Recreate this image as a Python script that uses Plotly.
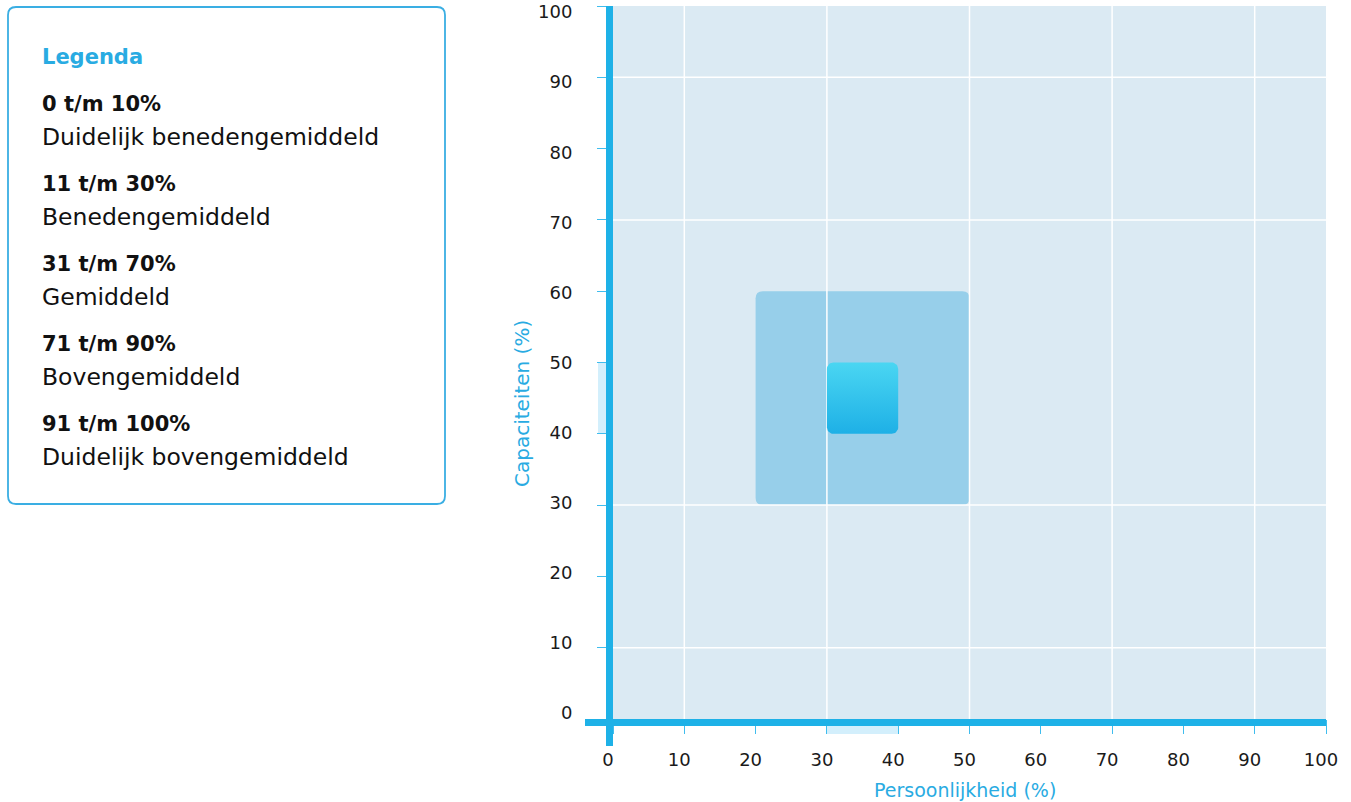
import numpy as np
import plotly.graph_objects as go

# ---------------- data ----------------
AXIS_TICKS = [0, 10, 20, 30, 40, 50, 60, 70, 80, 90, 100]
TICK_LABELS = [str(v) for v in AXIS_TICKS]
GRID_X = [10, 30, 50, 70, 90]
GRID_Y = [10, 30, 70, 90]
RANGE_PERSOONLIJKHEID = [20, 50]      # x extent of the wide band
RANGE_CAPACITEITEN = [30, 60]         # y extent of the wide band
SCORE_PERSOONLIJKHEID = [30, 40]      # x extent of the score
SCORE_CAPACITEITEN = [40, 50]         # y extent of the score
LEGEND_TITLE = "Legenda"
LEGEND_RANGES = ["0 t/m 10%", "11 t/m 30%", "31 t/m 70%", "71 t/m 90%", "91 t/m 100%"]
LEGEND_LABELS = ["Duidelijk benedengemiddeld", "Benedengemiddeld", "Gemiddeld",
                 "Bovengemiddeld", "Duidelijk bovengemiddeld"]
X_TITLE = "Persoonlijkheid (%)"
Y_TITLE = "Capaciteiten (%)"

# ---------------- layout constants ----------------
W, H = 1351, 802
ML, MR, MT, MB = 613, 25, 6, 83
PW, PH = W - ML - MR, H - MT - MB
FONT = "DejaVu Sans"
BLUE = "#1eb1e7"
TITLE_BLUE = "#29abe2"
TICK_BLUE = "#40bdee"
PLOT_BG = "#dbeaf3"
BAND = "#97cfea"
HILITE = "#d3effc"
# y tick labels sit on a slightly tighter scale than the ticks (label of 0 at 713px, of 100 at 12px)
LBL_BOTTOM_PX, LBL_TOP_PX = 713, 12


def pxx(px):
    return (px - ML) / PW


def pxy(py):
    return (H - MB - py) / PH


def rounded_path(x0, x1, y0, y1, rx, ry):
    return (f"M{x0 + rx},{y0} L{x1 - rx},{y0} Q{x1},{y0} {x1},{y0 + ry} "
            f"L{x1},{y1 - ry} Q{x1},{y1} {x1 - rx},{y1} L{x0 + rx},{y1} "
            f"Q{x0},{y1} {x0},{y1 - ry} L{x0},{y0 + ry} Q{x0},{y0} {x0 + rx},{y0} Z")


def rounded_outline(x0, x1, y0, y1, r, n=10):
    xs, ys = [], []
    corners = [(x1 - r, y0 + r, -90, 0), (x1 - r, y1 - r, 0, 90),
               (x0 + r, y1 - r, 90, 180), (x0 + r, y0 + r, 180, 270)]
    for cx, cy, a0, a1 in corners:
        t = np.radians(np.linspace(a0, a1, n))
        xs.extend(cx + r * np.cos(t))
        ys.extend(cy + r * np.sin(t))
    xs.append(xs[0])
    ys.append(ys[0])
    return xs, ys


fig = go.Figure()

# score box with vertical gradient
sx, sy = rounded_outline(SCORE_PERSOONLIJKHEID[0], SCORE_PERSOONLIJKHEID[1],
                         SCORE_CAPACITEITEN[0], SCORE_CAPACITEITEN[1], 0.9)
fig.add_trace(go.Scatter(
    x=sx, y=sy, mode="lines", fill="toself", line=dict(width=0, color="rgba(0,0,0,0)"),
    fillgradient=dict(type="vertical",
                      colorscale=[[0, "#1eb0e6"], [1, "#4ad6f2"]],
                      start=SCORE_CAPACITEITEN[0], stop=SCORE_CAPACITEITEN[1]),
    hoverinfo="skip", showlegend=False))
# empty helper trace so the label axis is rendered
fig.add_trace(go.Scatter(x=[None], y=[None], yaxis="y2", mode="markers",
                         hoverinfo="skip", showlegend=False))

shapes = []
# wide band (below the grid)
shapes.append(dict(type="path", xref="x", yref="y", layer="below",
                   path=rounded_path(RANGE_PERSOONLIJKHEID[0], RANGE_PERSOONLIJKHEID[1],
                                     RANGE_CAPACITEITEN[0], RANGE_CAPACITEITEN[1], 1.0, 1.0),
                   fillcolor=BAND, line=dict(width=0)))
# grid lines
for g in GRID_X:
    shapes.append(dict(type="line", xref="x", yref="y", layer="below",
                       x0=g, x1=g, y0=AXIS_TICKS[0], y1=AXIS_TICKS[-1],
                       line=dict(color="white", width=1.5)))
for g in GRID_Y:
    shapes.append(dict(type="line", xref="x", yref="y", layer="below",
                       x0=AXIS_TICKS[0], x1=AXIS_TICKS[-1], y0=g, y1=g,
                       line=dict(color="white", width=1.5)))
# highlights of the score on the axes
shapes.append(dict(type="rect", xref="x", yref="paper", layer="below",
                   x0=SCORE_PERSOONLIJKHEID[0], x1=SCORE_PERSOONLIJKHEID[1],
                   y0=-7 / PH, y1=-15 / PH, fillcolor=HILITE, line=dict(width=0)))
shapes.append(dict(type="rect", xref="paper", yref="y", layer="below",
                   y0=SCORE_CAPACITEITEN[0], y1=SCORE_CAPACITEITEN[1],
                   x0=-7 / PW, x1=-15 / PW, fillcolor=HILITE, line=dict(width=0)))
# thick axis lines (crossing at origin)
shapes.append(dict(type="rect", xref="paper", yref="paper", layer="above",
                   x0=pxx(585), x1=1.0, y0=-7 / PH, y1=0,
                   fillcolor=BLUE, line=dict(width=0)))
shapes.append(dict(type="rect", xref="paper", yref="paper", layer="above",
                   x0=-7 / PW, x1=0, y0=pxy(746), y1=1.0,
                   fillcolor=BLUE, line=dict(width=0)))
# legend box
lx0, lx1, ly0, ly1 = pxx(8), pxx(445), pxy(504), pxy(7)
shapes.append(dict(type="path", xref="paper", yref="paper", layer="above",
                   path=rounded_path(lx0, lx1, ly0, ly1, 8 / PW, 8 / PH),
                   fillcolor="white", line=dict(color="#3aaee3", width=1.8)))

annotations = []
annotations.append(dict(text=f"<b>{LEGEND_TITLE}</b>", xref="paper", yref="paper",
                        x=pxx(40), y=pxy(57), xanchor="left", yanchor="middle",
                        showarrow=False, font=dict(family=FONT, size=21, color=TITLE_BLUE)))
for i, (rng, lab) in enumerate(zip(LEGEND_RANGES, LEGEND_LABELS)):
    annotations.append(dict(text=f"<b>{rng}</b>", xref="paper", yref="paper",
                            x=pxx(40), y=pxy(104 + 80 * i), xanchor="left", yanchor="middle",
                            showarrow=False, font=dict(family=FONT, size=21, color="#111111")))
    annotations.append(dict(text=lab, xref="paper", yref="paper",
                            x=pxx(40), y=pxy(137 + 80 * i), xanchor="left", yanchor="middle",
                            showarrow=False, font=dict(family=FONT, size=23.5, color="#111111")))
annotations.append(dict(text=X_TITLE, xref="paper", yref="paper", x=pxx(965), y=pxy(790),
                        xanchor="center", yanchor="middle", showarrow=False,
                        font=dict(family=FONT, size=19, color=TITLE_BLUE)))
annotations.append(dict(text=Y_TITLE, xref="paper", yref="paper", x=pxx(522), y=pxy(404),
                        xanchor="center", yanchor="middle", showarrow=False, textangle=-90,
                        font=dict(family=FONT, size=20, color=TITLE_BLUE)))

tick_font = dict(family=FONT, size=18, color="#1a1a1a")
axis_common = dict(range=[AXIS_TICKS[0], AXIS_TICKS[-1]], tickmode="array",
                   tickvals=AXIS_TICKS, ticktext=TICK_LABELS, ticks="outside",
                   tickcolor=TICK_BLUE, tickwidth=1, showgrid=False, zeroline=False,
                   showline=False, fixedrange=True, tickfont=tick_font)

# range of the label axis so that its labels land on the tighter label scale
units_per_px = (AXIS_TICKS[-1] - AXIS_TICKS[0]) / (LBL_BOTTOM_PX - LBL_TOP_PX)
lbl_lo = AXIS_TICKS[0] - (H - MB - LBL_BOTTOM_PX) * units_per_px
lbl_hi = lbl_lo + PH * units_per_px

fig.update_layout(
    width=W, height=H, margin=dict(l=ML, r=MR, t=MT, b=MB, autoexpand=False),
    paper_bgcolor="white", plot_bgcolor=PLOT_BG, showlegend=False,
    xaxis=dict(**axis_common, ticklen=14, ticklabelshift=-5, ticklabelstandoff=10),
    yaxis=dict(**axis_common, ticklen=15, showticklabels=False),
    yaxis2=dict(range=[lbl_lo, lbl_hi], overlaying="y", side="left", tickmode="array",
                tickvals=AXIS_TICKS, ticktext=TICK_LABELS, ticks="outside", ticklen=15,
                tickcolor="rgba(0,0,0,0)", showgrid=False, zeroline=False, showline=False,
                fixedrange=True, tickfont=tick_font, ticklabelstandoff=21,
                ticklabeloverflow="allow"),
    shapes=shapes, annotations=annotations, hovermode=False,
)

fig.write_html("out.html", config={"displayModeBar": False},
               post_script="document.body.style.margin='0';")
